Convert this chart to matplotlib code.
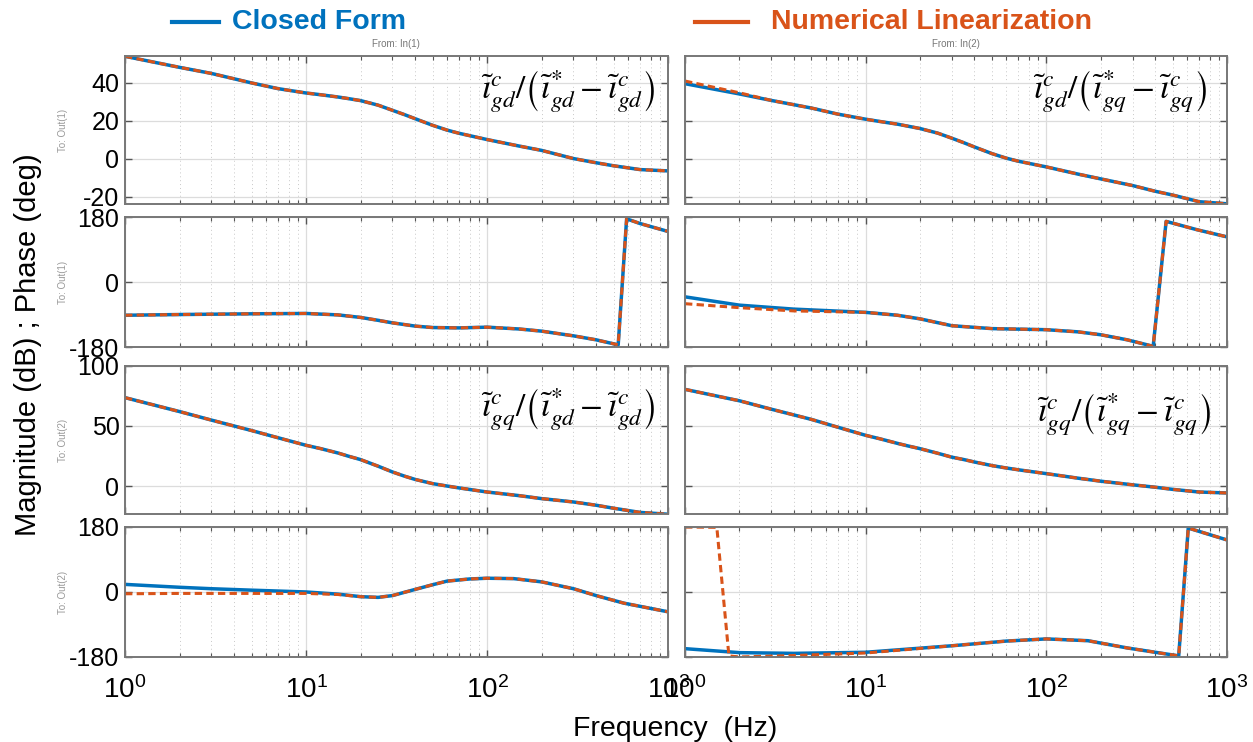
import matplotlib
matplotlib.use("Agg")
from matplotlib import pyplot as plt
from matplotlib.lines import Line2D
from matplotlib.ticker import LogLocator, NullFormatter

plt.rcParams['font.family'] = ['Liberation Sans', 'DejaVu Sans']
plt.rcParams['mathtext.fontset'] = 'stix'
plt.rcParams['axes.unicode_minus'] = False

blue = '#0072BD'
orange = '#D95319'

# magnitude curves (dB), common frequency grid (Hz)
f_mag = [1, 2, 3, 5, 7, 10, 12, 15, 17, 20, 25, 30, 35, 40, 50, 60, 70, 100, 150, 200, 300, 400, 500, 700, 1000]
mag_11 = [54, 48.2, 45, 40, 37, 34.7, 33.8, 32.6, 31.8, 30.7, 28.3, 25.6, 23.3, 21.2, 17.7, 15.2, 13.5,
          10.2, 6.8, 4.5, 0.2, -2, -3.6, -5.6, -6.3]
mag_12_cf = [39.6, 34.2, 30.8, 26.8, 23.6, 20.9, 19.7, 18.3, 17.3, 16, 13.6, 10.9, 8.5, 6.3, 2.8, 0.4, -1.2,
             -4.2, -8, -10.5, -14, -17, -19, -22.5, -23.6]
mag_12_nl = [41, 34.8, 30.8, 26.8, 23.6, 20.9, 19.7, 18.3, 17.3, 16, 13.6, 10.9, 8.5, 6.3, 2.8, 0.4, -1.2,
             -4.2, -8, -10.5, -14, -17, -19, -22.5, -23.6]
mag_21 = [73.6, 62, 54.9, 46.2, 40.2, 33.9, 31.2, 27.5, 25, 22, 16.5, 11.7, 8.2, 5.5, 2, 0, -1.6,
          -5, -8, -10.5, -13.3, -16, -18.5, -22, -23.5]
mag_22 = [80.5, 71, 64, 55.5, 49, 42.2, 39.3, 35.5, 33.5, 31.1, 27.3, 24, 22, 20, 17, 15, 13.5,
          10.3, 6.5, 4, 1, -1, -2.8, -5, -5.8]

# phase curves (deg)
f_ph11 = [1, 2, 5, 10, 15, 20, 25, 30, 40, 50, 70, 100, 150, 200, 300, 400, 530, 590, 700, 1000]
ph_11 = [-92, -90, -88, -87, -91, -98, -106, -113, -122, -126, -127, -125, -130, -136, -149, -160, -174, 175, 162, 140]

f_ph12 = [1, 2, 4, 10, 15, 20, 30, 50, 100, 150, 200, 280, 390, 460, 680, 1000]
ph_12_cf = [-41, -64, -75, -84, -92, -102, -121, -129, -132, -138, -146, -160, -178, 168, 145, 125]
ph_12_nl = [-60, -71, -80, -84, -92, -102, -121, -129, -132, -138, -146, -160, -178, 168, 145, 125]

f_ph21 = [1, 2, 3, 5, 10, 15, 20, 25, 30, 40, 50, 60, 80, 100, 140, 200, 300, 400, 570, 1000]
ph_21_cf = [21, 13, 9, 5, 0, -6, -13, -15, -10, 7, 20, 30, 36, 38, 37, 28, 9, -10, -31, -55]
ph_21_nl = [-5, -4, -4, -4, -4, -7, -13, -15, -10, 7, 20, 30, 36, 38, 37, 28, 9, -10, -31, -55]

f_ph22_cf = [1, 2, 4, 10, 30, 60, 100, 170, 280, 540, 610, 1000]
ph_22_cf = [-157, -168, -170, -167, -149, -136, -130, -135, -155, -177, 177, 144]
f_ph22_nl = [1, 1.5, 1.75, 2, 4, 10, 30, 60, 100, 170, 280, 540, 610, 1000]
ph_22_nl = [180, 179, -177, -180, -176, -169, -149, -136, -130, -135, -155, -177, 177, 144]

titles = [r'$\tilde{\imath}^{c}_{gd}/\left(\tilde{\imath}^{*}_{gd}-\tilde{\imath}^{c}_{gd}\right)$',
          r'$\tilde{\imath}^{c}_{gd}/\left(\tilde{\imath}^{*}_{gq}-\tilde{\imath}^{c}_{gq}\right)$',
          r'$\tilde{\imath}^{c}_{gq}/\left(\tilde{\imath}^{*}_{gd}-\tilde{\imath}^{c}_{gd}\right)$',
          r'$\tilde{\imath}^{c}_{gq}/\left(\tilde{\imath}^{*}_{gq}-\tilde{\imath}^{c}_{gq}\right)$']

fig = plt.figure(figsize=(12.53, 7.42), dpi=100)

col_x = [0.0998, 0.5467]
col_w = [0.4334, 0.4326]
# (bottom, height) of each row
rows = [(0.7251, 0.1995), (0.5323, 0.1752), (0.3073, 0.1995), (0.1146, 0.1752)]
ylims = [(-23.7, 54.2), (-180, 180), (-23.3, 100), (-180, 180)]
yticks = [[-20, 0, 20, 40], [-180, 0, 180], [0, 50, 100], [-180, 0, 180]]

axes = [[None, None] for _ in range(4)]
for r in range(4):
    for c in range(2):
        ax = fig.add_axes([col_x[c], rows[r][0], col_w[c], rows[r][1]])
        ax.set_xscale('log')
        ax.set_xlim(1, 1000)
        ax.set_ylim(*ylims[r])
        ax.set_yticks(yticks[r])
        ax.xaxis.set_major_locator(LogLocator(base=10, numticks=10))
        ax.xaxis.set_minor_locator(LogLocator(base=10, subs=range(2, 10), numticks=10))
        ax.xaxis.set_minor_formatter(NullFormatter())
        ax.grid(True, which='major', color='#dcdcdc', lw=0.9, ls='-')
        ax.grid(True, which='minor', axis='x', color='#c8c8c8', lw=0.7, ls=(0, (1, 3)))
        ax.set_axisbelow(True)
        ax.tick_params(which='both', direction='in', top=True, right=True, color='#555555')
        ax.tick_params(which='major', length=5, width=1, labelsize=18, pad=4)
        ax.tick_params(which='minor', length=3, width=0.8)
        for s in ax.spines.values():
            s.set_color('#777777')
            s.set_linewidth(1.4)
        if c == 1:
            ax.tick_params(labelleft=False)
        if r < 3:
            ax.tick_params(labelbottom=False)
        else:
            ax.tick_params(axis='x', labelsize=20, pad=14)
        axes[r][c] = ax

lw_cf = 2.5
lw_nl = 2.2
dash = (2.4, 1.4)

def pair(ax, f1, y1, f2, y2):
    ax.plot(f1, y1, color=blue, lw=lw_cf, solid_capstyle='butt', solid_joinstyle='round')
    ax.plot(f2, y2, color=orange, lw=lw_nl, dashes=dash)

pair(axes[0][0], f_mag, mag_11, f_mag, mag_11)
pair(axes[0][1], f_mag, mag_12_cf, f_mag, mag_12_nl)
pair(axes[1][0], f_ph11, ph_11, f_ph11, ph_11)
pair(axes[1][1], f_ph12, ph_12_cf, f_ph12, ph_12_nl)
pair(axes[2][0], f_mag, mag_21, f_mag, mag_21)
pair(axes[2][1], f_mag, mag_22, f_mag, mag_22)
pair(axes[3][0], f_ph21, ph_21_cf, f_ph21, ph_21_nl)
pair(axes[3][1], f_ph22_cf, ph_22_cf, f_ph22_nl, ph_22_nl)

# transfer function labels
axes[0][0].text(0.975, 0.76, titles[0], transform=axes[0][0].transAxes, ha='right', va='center', fontsize=24)
axes[0][1].text(0.962, 0.76, titles[1], transform=axes[0][1].transAxes, ha='right', va='center', fontsize=24)
axes[2][0].text(0.975, 0.70, titles[2], transform=axes[2][0].transAxes, ha='right', va='center', fontsize=24)
axes[2][1].text(0.970, 0.67, titles[3], transform=axes[2][1].transAxes, ha='right', va='center', fontsize=24)

# MATLAB style I/O labels
fig.text(0.316, 0.941, 'From: In(1)', ha='center', va='center', fontsize=7, color='#777777')
fig.text(0.763, 0.941, 'From: In(2)', ha='center', va='center', fontsize=7, color='#777777')
for (b, h), name in zip(rows, ['To: Out(1)', 'To: Out(1)', 'To: Out(2)', 'To: Out(2)']):
    fig.text(0.050, b + h / 2, name, rotation=90, ha='center', va='center', fontsize=7, color='#999999')

fig.text(0.022, 0.535, 'Magnitude (dB) ; Phase (deg)', rotation=90, ha='center', va='center', fontsize=21)
fig.text(0.539, 0.018, 'Frequency  (Hz)', ha='center', va='center', fontsize=20.5)

# legend across the top
fig.add_artist(Line2D([0.137, 0.175], [0.971, 0.971], color=blue, lw=3))
fig.text(0.185, 0.971, 'Closed Form', color=blue, fontsize=20.5, fontweight='bold', ha='left', va='center')
fig.add_artist(Line2D([0.555, 0.597], [0.971, 0.971], color=orange, lw=3))
fig.text(0.615, 0.971, 'Numerical Linearization', color=orange, fontsize=20.5, fontweight='bold', ha='left', va='center')

fig.savefig('out.png', dpi=100)
